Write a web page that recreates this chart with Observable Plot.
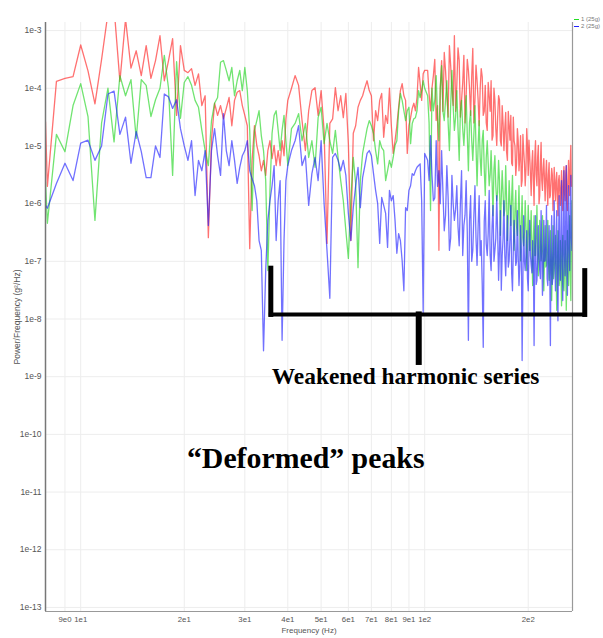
<!DOCTYPE html>
<html><head><meta charset="utf-8">
<script src="https://cdn.jsdelivr.net/npm/d3@7"></script>
<script src="https://cdn.jsdelivr.net/npm/@observablehq/plot@0.6"></script>
<style>
body{margin:0;background:#fff;}
#wrap{position:relative;width:603px;height:638px;overflow:hidden;}
#legend{position:absolute;left:574px;top:16px;font:6px "Liberation Sans",Arial,sans-serif;color:#777;line-height:7px;white-space:nowrap;}
#legend span.sw{display:inline-block;width:5px;height:1px;vertical-align:middle;margin-right:2px;}
</style></head><body><div id="wrap"><div id="legend"></div></div>
<script>
// ---- sample frequency grid (Hz) ----
const freqA = [7.9, ...d3.range(8, 20.01, 0.5)];   // 26
const freqB = d3.range(20.5, 40.01, 0.5);          // 40
const freqC = d3.range(41, 100.01, 1);             // 60
const freqD = d3.range(102, 268.01, 2);            // 84 (even Hz)
const freqE = d3.range(103, 267.01, 2);            // 83 (odd Hz)

// ---- log10 of power/frequency ----
const redA = [-4.58,-5.7,-3.88,-3.83,-3.8,-3.25,-3.7,-4.27,-3.5,-2.7,-2.6,-3.88,-2.8,-3.65,-3.35,-3.78,-3.26,-3.83,-3.52,-3.09,-3.87,-3.52,-3.14,-4.47,-3.26,-3.69];
const redB = [-3.73,-3.66,-3.95,-3.75,-4.3,-4.13,-6.59,-4.9,-4.26,-4.47,-4.3,-4.53,-4.35,-4.16,-4.65,-4.21,-4.07,-4.04,-4.3,-4.47,-4.65,-6.78,-5.25,-4.65,-4.99,-5.17,-5.43,-5.25,-5.51,-5.08,-4.91,-5.22,-4.99,-5.34,-5.08,-5.34,-4.91,-5.17,-4.53,-4.21];
const redC = [-4.0,-3.78,-3.95,-4.56,-5.08,-4.39,-4.04,-3.99,-4.47,-4.04,
  -4.73,-6.69,-4.61,-4.53,-3.99,-4.39,-4.13,-4.51,-4.09,-4.96,
  -6.64,-4.78,-4.65,-4.33,-4.21,-4.13,-3.99,-3.87,-4.04,-4.13,
  -4.91,-4.39,-4.56,-4.21,-4.09,-4.85,-4.47,-4.61,-4.0,-4.65,
  -5.13,-4.91,-4.65,-4.33,-4.04,-3.92,-4.13,-4.21,-5.13,-4.65,
  -4.51,-4.35,-4.26,-4.39,-4.16,-3.64,-3.92,-4.21,-3.75,-3.69];
const redD = [-3.69,-4.39,-3.78,-4.56,-6.81,-3.52,-3.38,-4.13,-3.26,-4.04,
  -3.09,-3.95,-3.52,-4.21,-3.43,-4.13,-3.69,-4.47,-3.31,-4.21,
  -3.87,-4.65,-3.66,-4.47,-3.95,-4.73,-4.13,-3.87,-4.82,-4.21,
  -4.99,-4.13,-4.91,-4.3,-5.08,-4.42,-5.25,-4.65,-4.47,-5.34,
  -4.91,-5.51,-4.7,-5.43,-4.82,-5.6,-5.08,-5.69,-4.7,-5.51,
  -5.17,-5.86,-5.08,-6.03,-4.91,-5.69,-4.99,-5.86,-4.94,-5.77,
  -5.22,-5.95,-5.25,-6.03,-5.29,-5.86,-5.39,-6.12,-5.37,-5.95,
  -5.46,-6.21,-5.51,-6.03,-5.43,-6.12,-5.36,-5.95,-5.34,-6.12,
  -5.25,-5.86,-4.99,-5.51];
const redE = [-4.1,-4.0,-3.5,-4.3,-4.0,-4.4,-3.7,-4.5,-3.6,-4.3,
  -4.4,-3.3,-4.5,-3.9,-4.6,-3.5,-4.0,-3.8,-4.6,-3.6,
  -4.2,-4.0,-3.8,-4.4,-4.6,-3.9,-4.4,-4.9,-4.0,-4.7,
  -4.5,-4.2,-5.0,-4.6,-4.7,-5.1,-4.4,-4.9,-5.3,-4.5,
  -5.0,-5.3,-4.9,-5.2,-5.7,-4.8,-5.3,-5.4,-5.0,-4.9,
  -5.5,-5.3,-5.6,-5.2,-5.5,-5.2,-6.0,-5.3,-5.6,-5.4,
  -5.6,-5.5,-5.7,-5.5,-5.9,-5.6,-5.5,-5.8,-5.7,-5.6,
  -5.9,-5.6,-5.8,-5.7,-5.9,-5.6,-5.8,-5.5,-5.9,-5.6,
  -5.6,-5.3,-5.7];

const greenA = [-5.62,-6.34,-4.8,-5.1,-4.3,-3.92,-4.49,-6.29,-4.6,-4.0,-4.93,-3.78,-4.13,-3.85,-4.87,-3.85,-3.95,-4.49,-4.2,-4.0,-3.43,-4.0,-5.51,-3.54,-4.52,-3.9];
const greenB = [-3.8,-3.95,-4.21,-4.33,-4.73,-5.08,-5.34,-4.56,-4.26,-4.16,-3.55,-3.52,-3.69,-3.87,-3.64,-4.13,-3.87,-3.69,-4.04,-3.64,-4.04,-4.73,-6.12,-4.73,-4.56,-4.39,-4.82,-5.08,-5.6,-7.16,-5.77,-4.78,-4.47,-4.39,-4.73,-5.08,-4.73,-4.47,-4.91,-5.34];
const greenC = [-4.7,-4.61,-4.44,-4.91,-4.61,-5.2,-4.91,-5.37,-4.51,-4.33,
  -4.96,-4.61,-4.91,-5.13,-4.73,-5.2,-5.6,-5.95,-6.47,-6.95,
  -5.95,-5.2,-5.65,-7.11,-5.6,-5.13,-4.91,-4.7,-4.56,-4.65,
  -4.78,-5.08,-5.31,-4.91,-5.03,-5.08,-5.6,-5.43,-5.25,-5.37,
  -5.2,-4.99,-4.91,-4.39,-4.09,-4.21,-4.39,-4.56,-4.39,-4.33,
  -4.96,-4.61,-4.53,-4.51,-4.39,-4.04,-4.16,-4.04,-3.87,-4.0];
const greenD = [-4.13,-6.12,-4.39,-3.78,-4.91,-3.61,-4.56,-3.87,-5.08,-3.69,
  -4.73,-4.04,-5.25,-4.21,-4.99,-4.13,-5.43,-4.39,-5.25,-4.3,
  -5.69,-4.56,-5.51,-4.73,-5.86,-4.91,-5.69,-5.08,-6.21,-5.17,
  -5.95,-5.25,-6.55,-5.43,-6.21,-5.34,-6.64,-5.6,-6.38,-5.51,
  -6.81,-5.77,-6.55,-5.69,-6.99,-5.86,-6.73,-5.95,-7.16,-6.03,
  -6.81,-6.12,-7.42,-6.21,-6.9,-6.03,-7.25,-6.29,-6.99,-6.21,
  -7.51,-6.38,-7.07,-6.29,-7.33,-6.47,-7.68,-6.38,-7.16,-6.55,
  -7.85,-6.47,-7.42,-6.64,-7.77,-6.55,-7.51,-6.64,-7.85,-6.47,
  -7.42,-6.21,-7.68,-5.95];
const greenE = [-4.6,-4.0,-4.2,-4.5,-4.0,-4.4,-4.2,-4.6,-4.3,-4.3,
  -4.5,-4.7,-4.4,-4.7,-4.6,-4.8,-4.6,-4.9,-4.8,-5.0,
  -5.0,-5.2,-4.9,-5.4,-5.2,-5.3,-5.5,-5.6,-5.4,-5.7,
  -5.8,-5.6,-5.9,-5.8,-6.1,-5.9,-6.2,-6.0,-5.9,-6.3,
  -6.1,-6.4,-6.2,-6.4,-6.3,-6.6,-6.5,-6.4,-6.7,-6.5,
  -6.5,-6.8,-6.6,-6.9,-6.6,-6.7,-7.0,-6.7,-6.8,-7.0,
  -6.9,-7.1,-6.8,-7.0,-7.2,-6.9,-7.1,-7.3,-7.0,-7.1,
  -7.2,-7.0,-7.3,-7.1,-6.9,-7.4,-7.2,-7.0,-7.3,-7.1,
  -6.9,-7.2,-6.8];

const blueA = [-6.03,-6.08,-5.65,-5.3,-5.6,-4.95,-4.9,-5.25,-5.0,-4.1,-4.05,-4.8,-4.5,-5.3,-4.75,-5.1,-5.55,-5.55,-5.0,-5.2,-4.1,-4.15,-4.35,-4.2,-4.7,-5.0];
const blueB = [-5.25,-4.91,-5.86,-5.25,-5.43,-5.08,-6.38,-5.08,-4.7,-5.17,-5.51,-4.44,-5.08,-5.34,-4.91,-5.25,-5.65,-5.37,-5.17,-5.08,-4.91,-5.43,-5.57,-5.69,-5.95,-6.64,-6.81,-8.55,-7.16,-6.29,-5.95,-5.69,-5.34,-6.64,-5.95,-5.6,-8.37,-6.64,-5.6,-5.34];
const blueC = [-5.08,-4.91,-4.65,-5.34,-5.17,-6.03,-5.48,-5.2,-5.6,-4.91,
  -6.0,-6.81,-7.64,-5.2,-5.13,-5.25,-5.43,-5.25,-5.51,-6.17,
  -6.64,-6.07,-5.69,-5.37,-6.07,-5.55,-5.34,-5.13,-5.08,-5.17,
  -5.48,-5.77,-6.0,-6.69,-5.89,-6.03,-6.17,-6.76,-5.77,-5.95,
  -5.86,-6.29,-6.86,-6.52,-6.64,-6.99,-7.51,-6.07,-6.12,-5.77,
  -5.69,-5.48,-5.51,-5.43,-5.37,-5.34,-5.31,-5.95,-7.89,-5.13];
const blueD = [-5.25,-4.82,-5.95,-4.91,-5.43,-5.08,-6.47,-5.34,-6.81,-5.51,
  -6.29,-5.69,-6.73,-5.43,-6.38,-5.6,-8.37,-5.86,-6.81,-5.69,
  -7.07,-5.86,-6.64,-8.49,-5.95,-6.9,-5.77,-7.16,-6.03,-6.81,
  -5.86,-7.33,-6.12,-6.9,-5.95,-7.25,-6.21,-6.99,-6.03,-7.51,
  -6.29,-7.07,-6.12,-7.42,-6.38,-8.72,-6.21,-7.16,-6.47,-7.51,
  -6.29,-7.07,-6.64,-8.46,-6.21,-7.33,-6.38,-7.16,-6.12,-7.59,
  -6.29,-6.99,-6.03,-7.42,-6.38,-8.46,-6.21,-7.25,-5.95,-7.51,
  -6.12,-8.03,-5.86,-7.33,-5.6,-7.68,-5.43,-7.25,-5.34,-7.59,
  -5.69,-7.16,-5.51,-6.81];
const blueE = [-5.6,-5.5,-5.9,-5.7,-6.0,-5.8,-6.2,-5.9,-6.6,-6.0,
  -6.1,-6.4,-6.0,-6.9,-6.2,-6.5,-6.3,-7.0,-6.2,-6.6,
  -6.4,-6.9,-7.4,-6.3,-6.7,-6.5,-6.9,-6.4,-7.0,-6.6,
  -6.5,-6.8,-7.5,-6.6,-6.9,-6.7,-7.1,-6.6,-7.2,-6.8,
  -6.7,-7.0,-6.9,-7.1,-6.8,-7.3,-7.0,-6.9,-7.3,-6.8,
  -6.9,-7.2,-7.0,-6.8,-7.4,-7.0,-6.9,-7.3,-6.8,-7.2,
  -7.0,-6.7,-7.3,-6.9,-7.1,-6.7,-7.4,-6.8,-7.0,-6.6,
  -7.2,-6.7,-7.0,-6.5,-7.1,-6.6,-6.9,-6.3,-7.0,-6.4,
  -6.8,-6.3,-6.6];

// ---- ticks ----
const xTicks = [9, 10, 20, 30, 40, 50, 60, 70, 80, 90, 100, 200];
const xTickLabels = ["9e0","1e1","2e1","3e1","4e1","5e1","6e1","7e1","8e1","9e1","1e2","2e2"];
const yTicks = [1e-3,1e-4,1e-5,1e-6,1e-7,1e-8,1e-9,1e-10,1e-11,1e-12,1e-13];
const yTickLabels = ["1e-3","1e-4","1e-5","1e-6","1e-7","1e-8","1e-9","1e-10","1e-11","1e-12","1e-13"];
const xTitle = "Frequency (Hz)";
const yTitle = "Power/Frequency (g²/Hz)";

// ---- legend ----
const legendNames = ["1 (25g)", "2 (25g)"];
const legendColors = ["#22dd22", "#2222ff"];

// ---- annotations (data coordinates) ----
const bracketSegs = [
  {x1: 35.7, y1: 7.6e-8, x2: 35.7, y2: 1.2e-8, w: 5},
  {x1: 35.7, y1: 1.2e-8, x2: 292, y2: 1.2e-8, w: 4},
  {x1: 292, y1: 6.9e-8, x2: 292, y2: 1.2e-8, w: 5},
  {x1: 96.1, y1: 1.2e-8, x2: 96.1, y2: 1.8e-9, w: 6}
];
const notes = [
  {text: "Weakened harmonic series", f: 88, p: 1.0e-9, size: 23.4},
  {text: "\u201CDeformed\u201D peaks", f: 45.1, p: 3.9e-11, size: 29.8}
];

const freqSegs = [freqA, freqB, freqC, freqD, freqE];
const series = [
  {name: "0", color: "#ff1a1a", segs: [redA, redB, redC, redD, redE]},
  {name: "1", color: "#1ad41a", segs: [greenA, greenB, greenC, greenD, greenE]},
  {name: "2", color: "#1a1aff", segs: [blueA, blueB, blueC, blueD, blueE]}
];
function rowsOf(s) {
  const out = [];
  s.segs.forEach((vals, i) => {
    const fr = freqSegs[i];
    const n = Math.min(fr.length, vals.length);
    for (let j = 0; j < n; j++) out.push({f: fr[j], p: Math.pow(10, vals[j])});
  });
  return out.sort((a, b) => a.f - b.f);
}

const xLab = xTicks.map((d, i) => ({f: d, t: xTickLabels[i]}));
const yLab = new Map(yTicks.map((d, i) => [d, yTickLabels[i]]));

const chart = Plot.plot({
  width: 603, height: 638,
  marginLeft: 45, marginRight: 31, marginTop: 22, marginBottom: 27,
  style: {fontFamily: "'Liberation Sans', Arial, sans-serif", fontSize: "8.5px", color: "#555", background: "#fff"},
  x: {type: "log", domain: [7.9, 269], axis: null},
  y: {type: "log", domain: [0.85e-13, 1.38e-3]},
  marks: [
    Plot.gridX(xTicks, {stroke: "#ededed", strokeOpacity: 1}),
    Plot.gridY(yTicks, {stroke: "#ededed", strokeOpacity: 1}),
    ...series.map(s => Plot.line(rowsOf(s), {x: "f", y: "p", stroke: s.color, strokeWidth: 1.3, strokeOpacity: 0.62, clip: true})),
    Plot.ruleX([7.9], {stroke: "#777", strokeWidth: 1.5}),
    Plot.ruleX([269], {stroke: "#999", strokeWidth: 1.2}),
    Plot.ruleY([0.85e-13], {stroke: "#999", strokeWidth: 1.2}),
    Plot.text(xLab, {x: "f", text: "t", frameAnchor: "bottom", lineAnchor: "top", dy: 5, fill: "#555", fontSize: 7.8}),
    Plot.text([xTitle], {text: d => d, frameAnchor: "bottom", lineAnchor: "top", dy: 16, fill: "#555", fontSize: 8}),
    Plot.axisY(yTicks, {tickSize: 0, tickPadding: 4, tickFormat: d => yLab.get(d), fill: "#555",
      label: yTitle, labelAnchor: "center", labelArrow: "none", labelOffset: 32}),
    Plot.link(bracketSegs, {x1: "x1", y1: "y1", x2: "x2", y2: "y2", stroke: "black", strokeWidth: "w", strokeLinecap: "square", clip: false}),
    Plot.text(notes, {x: "f", y: "p", text: "text", fontSize: "size", fontWeight: "bold", fill: "black",
      fontFamily: "'Liberation Serif', 'Times New Roman', serif", clip: false})
  ]
});
document.getElementById("wrap").prepend(chart);

const lg = document.getElementById("legend");
legendNames.forEach((n, i) => {
  const d = document.createElement("div");
  d.innerHTML = `<span class="sw" style="background:${legendColors[i]}"></span>${n}`;
  lg.appendChild(d);
});
</script>
</body></html>
